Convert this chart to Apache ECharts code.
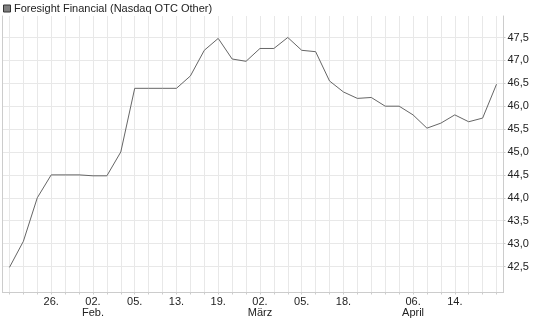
<!DOCTYPE html>
<html>
<head>
<meta charset="utf-8">
<script src="https://cdn.jsdelivr.net/npm/echarts@6/dist/echarts.min.js"></script>
<style>
html,body{margin:0;padding:0;background:#fff;}
#c{width:545px;height:327px;}
</style>
</head>
<body>
<div id="c"></div>
<script>
const seriesName = 'Foresight Financial (Nasdaq OTC Other)';
const prices = [
  42.48, 43.05, 44.00, 44.50, 44.50, 44.50, 44.48, 44.48, 45.00, 46.39,
  46.39, 46.39, 46.39, 46.66, 47.22, 47.48, 47.03, 46.98, 47.26, 47.26,
  47.50, 47.22, 47.19, 46.55, 46.31, 46.17, 46.19, 46.00, 46.00, 45.81,
  45.52, 45.63, 45.81, 45.66, 45.74, 46.48
];
const tickIndex = [3, 6, 9, 12, 15, 18, 21, 24, 29, 32];
const tickLabels = ['26.', '02.\nFeb.', '05.', '13.', '19.', '02.\nMärz', '05.', '18.', '06.\nApril', '14.'];
const yTickMin = 42.5;
const yTickMax = 47.5;
const yTickStep = 0.5;
const yRangeMin = 41.932;
const yRangeMax = 47.969;

const categories = prices.map((_, i) => String(i));
const font = "'Liberation Sans', Arial, sans-serif";

const chart = echarts.init(document.getElementById('c'), null, {renderer: 'canvas'});
chart.setOption({
  animation: false,
  backgroundColor: '#ffffff',
  textStyle: {fontFamily: font},
  legend: {
    show: true,
    data: [seriesName],
    left: 3, top: 3, padding: 0,
    icon: 'rect', itemWidth: 7, itemHeight: 7,
    itemStyle: {color: '#808080', borderColor: '#333333', borderWidth: 1},
    textStyle: {fontSize: 11, color: '#222222', fontFamily: font, padding: [0, 0, 0, -1.5]},
    selectedMode: false
  },
  grid: [
    {left: 2.5, right: 41.5, top: 16, bottom: 34.5},
    {left: 2.5, right: 41.5, top: 37.5, bottom: 60.5}
  ],
  xAxis: [
    {
      gridIndex: 0, type: 'category', data: categories, boundaryGap: true,
      axisLine: {show: true, lineStyle: {color: '#cccccc', width: 1}},
      axisTick: {show: true, alignWithLabel: true, interval: 0, length: 2, lineStyle: {color: '#cccccc'}},
      splitLine: {show: true, alignWithLabel: true, interval: 0, lineStyle: {color: '#e8e8e8', width: 1}},
      axisLabel: {
        show: true, interval: 0, margin: 4, fontSize: 11, lineHeight: 11, color: '#222222', fontFamily: font,
        formatter: function (v, i) { const k = tickIndex.indexOf(i); return k >= 0 ? tickLabels[k] : ''; }
      }
    },
    {
      gridIndex: 1, type: 'category', data: categories, boundaryGap: true, show: false
    }
  ],
  yAxis: [
    {
      gridIndex: 0, type: 'value', position: 'left', min: yRangeMin, max: yRangeMax, scale: true,
      axisLine: {show: true, lineStyle: {color: '#cccccc'}},
      axisTick: {show: false}, axisLabel: {show: false}, splitLine: {show: false}
    },
    {
      gridIndex: 1, type: 'value', position: 'right', min: yTickMin, max: yTickMax, interval: yTickStep,
      axisLine: {show: false},
      axisTick: {show: true, length: 2, lineStyle: {color: '#cccccc'}},
      splitLine: {show: true, lineStyle: {color: '#e8e8e8', width: 1}},
      axisLabel: {
        show: true, margin: 4, fontSize: 11, color: '#222222', fontFamily: font,
        formatter: function (v) { return v.toFixed(1).replace('.', ','); }
      }
    },
    {
      gridIndex: 0, type: 'value', position: 'right', min: yRangeMin, max: yRangeMax, scale: true,
      axisLine: {show: true, lineStyle: {color: '#cccccc'}},
      axisTick: {show: false}, axisLabel: {show: false}, splitLine: {show: false}
    }
  ],
  series: [
    {
      name: seriesName, type: 'line', xAxisIndex: 0, yAxisIndex: 0,
      data: prices, symbol: 'none', smooth: false,
      itemStyle: {color: '#808080'},
      lineStyle: {color: '#666666', width: 1}
    }
  ]
});
</script>
</body>
</html>
